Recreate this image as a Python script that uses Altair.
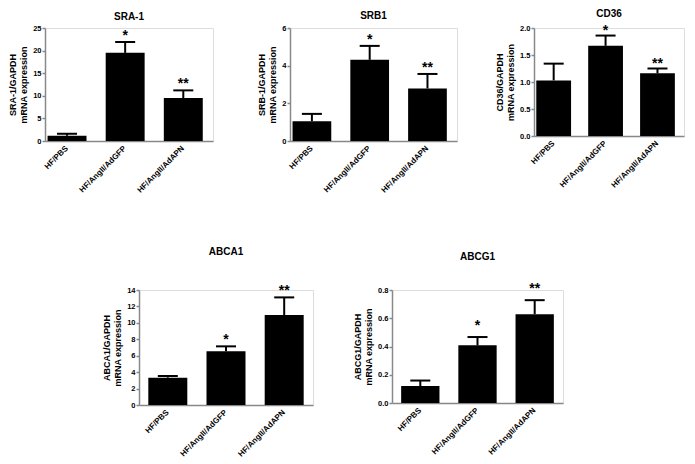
import altair as alt
import pandas as pd

groups = ["HF/PBS", "HF/AngII/AdGFP", "HF/AngII/AdAPN"]
stars = ["", "*", "**"]

sra1_mean = [1.15, 19.5, 9.5]
sra1_err = [1.6, 21.9, 11.2]
srb1_mean = [1.05, 4.31, 2.79]
srb1_err = [1.44, 5.05, 3.56]
cd36_mean = [1.03, 1.67, 1.16]
cd36_err = [1.34, 1.86, 1.25]
abca1_mean = [3.33, 6.53, 10.96]
abca1_err = [3.54, 7.14, 13.1]
abcg1_mean = [0.12, 0.408, 0.629]
abcg1_err = [0.159, 0.467, 0.728]

FONT = "Liberation Sans"


def panel(title, ytitle, mean, err, ymax, ticks, fmt, width, height,
          align, pad_outer, title_offset, star_dy):
    df = pd.DataFrame({"group": groups, "val": mean, "err": err, "star": stars})
    xenc = alt.X(
        "group:N", sort=groups,
        scale=alt.Scale(paddingInner=0.33, paddingOuter=pad_outer, align=align),
        axis=alt.Axis(title=None, labelAngle=-45, ticks=False, domainWidth=1.5,
                      labelFontSize=8, labelFontWeight="bold", labelPadding=6,
                      labelAlign="right", labelBaseline="middle"),
    )
    yaxis = alt.Axis(title=ytitle, values=ticks, format=fmt, grid=False,
                     tickSize=3, tickWidth=1.5, domainWidth=1.5,
                     labelFontSize=7.5, labelFontWeight="bold", labelPadding=1,
                     titleFontSize=9, titleFontWeight="bold", titlePadding=4,
                     titleLineHeight=11)
    yscale = alt.Scale(domain=[0, ymax], nice=False, zero=True)
    base = alt.Chart(df)
    bars = base.mark_bar(color="black").encode(
        x=xenc, y=alt.Y("val:Q", scale=yscale, axis=yaxis))
    rule = base.mark_rule(color="black", strokeWidth=2).encode(
        x=xenc, y=alt.Y("val:Q", scale=yscale, axis=yaxis), y2="err:Q")
    cap = base.mark_tick(color="black", thickness=2, size=20,
                         orient="horizontal", opacity=1).encode(
        x=xenc, y=alt.Y("err:Q", scale=yscale, axis=yaxis))
    txt = base.mark_text(fontSize=14, fontWeight="bold", baseline="alphabetic",
                         dy=star_dy, color="black", font=FONT).encode(
        x=xenc, y=alt.Y("err:Q", scale=yscale, axis=yaxis), text="star:N")
    return alt.layer(bars, rule, cap, txt).properties(
        width=width, height=height,
        title=alt.TitleParams(title, fontSize=10, fontWeight="bold",
                              offset=title_offset, font=FONT, color="black"),
    )


p1 = panel("SRA-1", ["SRA-1/GAPDH", "mRNA expression"], sra1_mean, sra1_err,
           25, [0, 5, 10, 15, 20, 25], "d", 168, 113, 0.2, 0.11, 2, -2)
p2 = panel("SRB1", ["SRB-1/GAPDH", "mRNA expression"], srb1_mean, srb1_err,
           6, [0, 2, 4, 6], "d", 167, 113, 0.2, 0.11, 3, -2)
p3 = panel("CD36", ["CD36/GAPDH", "mRNA expression"], cd36_mean, cd36_err,
           2.0, [0, 0.5, 1.0, 1.5, 2.0], ".1f", 150, 108, 0.2, 0.11, 5, -1)
p4 = panel("ABCA1", ["ABCA1/GAPDH", "mRNA expression"], abca1_mean, abca1_err,
           14, [0, 2, 4, 6, 8, 10, 12, 14], "d", 174, 115, 0.5, 0.16, 27, -2)
p5 = panel("ABCG1", ["ABCG1/GAPDH", "mRNA expression"], abcg1_mean, abcg1_err,
           0.8, [0, 0.2, 0.4, 0.6, 0.8], ".1f", 171, 113, 0.5, 0.16, 20, -7)

spacer = alt.Chart(pd.DataFrame({"a": [0]})).mark_point(opacity=0, size=0).encode(
    x=alt.X("a:Q", axis=None), y=alt.Y("a:Q", axis=None)
).properties(width=15, height=10,
             view=alt.ViewBackground(stroke="transparent", strokeOpacity=0,
                                     fillOpacity=0))

row1 = alt.hconcat(p1, p2, p3, spacing=77, bounds="flush")
row2 = alt.hconcat(spacer, p4, p5, spacing=79, bounds="flush")

chart = alt.vconcat(row1, row2, spacing=262, bounds="flush").properties(
    padding={"left": 0, "top": 0, "right": 0, "bottom": 0}
).configure_view(stroke=None, strokeWidth=0).configure_axis(
    domainColor="black", tickColor="black", labelColor="black",
    titleColor="black", labelFont=FONT, titleFont=FONT
).configure(background="white")

chart.save("out.html", embed_options={"renderer": "svg", "actions": False})
